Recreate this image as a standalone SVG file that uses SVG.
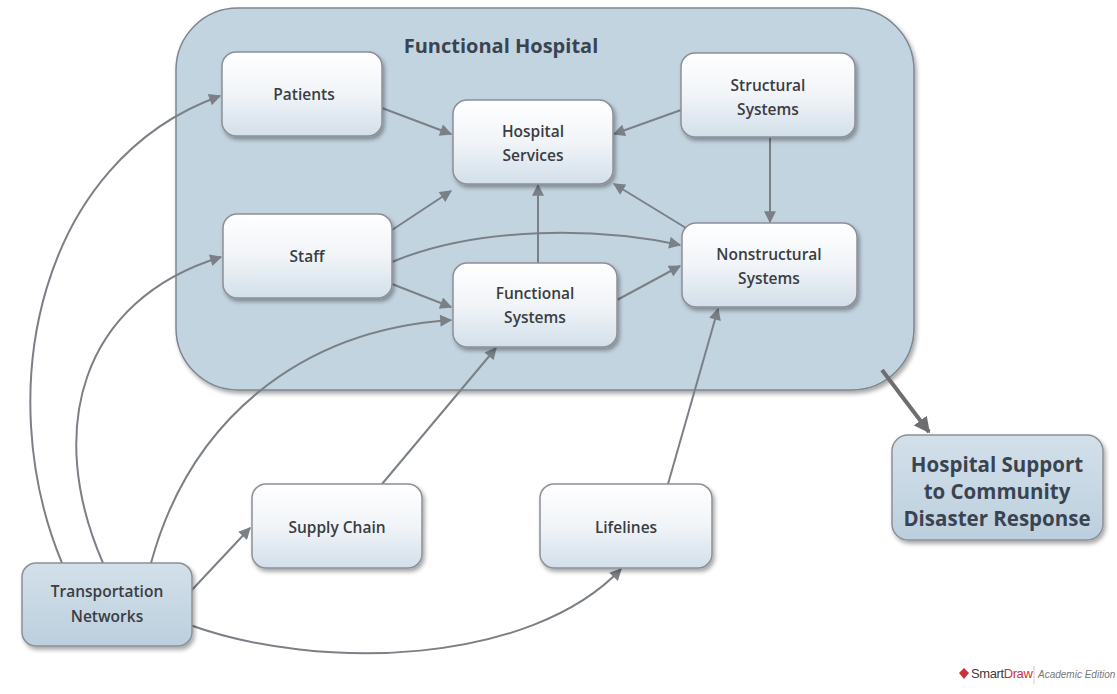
<svg xmlns="http://www.w3.org/2000/svg" width="1117" height="694" viewBox="0 0 1117 694">
<defs>
<linearGradient id="gw" x1="0" y1="0" x2="0" y2="1">
<stop offset="0" stop-color="#ffffff"/>
<stop offset="0.5" stop-color="#f1f4f8"/>
<stop offset="1" stop-color="#d2dfea"/>
</linearGradient>
<linearGradient id="gb" x1="0" y1="0" x2="0" y2="1">
<stop offset="0" stop-color="#d3e0ea"/>
<stop offset="1" stop-color="#bccfde"/>
</linearGradient>
<filter id="sh" x="-10%" y="-10%" width="125%" height="130%">
<feDropShadow dx="2" dy="3" stdDeviation="2" flood-color="#000" flood-opacity="0.35"/>
</filter>
<marker id="ar" viewBox="0 0 10 10" refX="9" refY="5" markerWidth="6.5" markerHeight="6" orient="auto" markerUnits="strokeWidth">
<path d="M0,0 L10,5 L0,10 z" fill="#7b8086"/>
</marker>
<marker id="arb" viewBox="0 0 10 10" refX="9" refY="5" markerWidth="4" markerHeight="4" orient="auto" markerUnits="strokeWidth">
<path d="M0,0 L10,5 L0,10 z" fill="#6e6e70"/>
</marker>
</defs>
<style>
.box{fill:url(#gw);stroke:#8c9096;stroke-width:1.5;filter:url(#sh)}
.bbox{fill:url(#gb);stroke:#8c9096;stroke-width:1.5;filter:url(#sh)}
.lbl{font-family:"Open Sans","Noto Sans",sans-serif;font-weight:600;font-size:15.5px;fill:#3a3d42;text-anchor:middle}
.big{font-family:"Open Sans","Noto Sans",sans-serif;font-weight:700;font-size:20.5px;fill:#3a4450;text-anchor:middle}
.title{font-family:"Open Sans","Noto Sans",sans-serif;font-weight:700;font-size:20px;fill:#3a4450;text-anchor:middle}
.c{fill:none;stroke:#7b8086;stroke-width:2;marker-end:url(#ar)}
</style>
<rect width="1117" height="694" fill="#ffffff"/>
<g id="container">
<rect x="176" y="8" width="738" height="382" rx="62" ry="62" fill="#c3d4e1" stroke="#7d8790" stroke-width="1.5" filter="url(#sh)"/>
<text class="title" x="501" y="53">Functional Hospital</text>
</g>
<g id="connectors">
<path class="c" d="M62,563 C -10,390 40,160 220,96"/>
<path class="c" d="M103,563 C 45,430 80,300 221,257"/>
<path class="c" d="M151,563 C 190,420 300,330 451,320"/>
<path class="c" d="M190,592 L250,528"/>
<path class="c" d="M190,625 C 320,672 530,665 621,569"/>
<path class="c" d="M382,484 L496,348"/>
<path class="c" d="M668,484 L718,309"/>
<path class="c" d="M382,108 L451,134"/>
<path class="c" d="M681,110 L614,134"/>
<path class="c" d="M770,138 L770,222"/>
<path class="c" d="M392,230 L451,191"/>
<path class="c" d="M392,262 C 480,225 600,228 680,245"/>
<path class="c" d="M392,284 L451,307"/>
<path class="c" d="M538,263 L538,185"/>
<path class="c" d="M686,228 L614,184"/>
<path class="c" d="M617,300 L680,266"/>
<path fill="none" stroke="#6e6e70" stroke-width="4" marker-end="url(#arb)" d="M882,370 L929,432"/>
</g>
<g id="patients">
<rect class="box" x="222" y="52" width="160" height="84" rx="14"/>
<text class="lbl" x="304" y="100">Patients</text>
</g>
<g id="hospital-services">
<rect class="box" x="453" y="100" width="160" height="84" rx="14"/>
<text class="lbl" x="533" y="137">Hospital</text>
<text class="lbl" x="533" y="161">Services</text>
</g>
<g id="structural-systems">
<rect class="box" x="681" y="53" width="174" height="84" rx="14"/>
<text class="lbl" x="768" y="91">Structural</text>
<text class="lbl" x="768" y="115">Systems</text>
</g>
<g id="staff">
<rect class="box" x="223" y="214" width="169" height="84" rx="14"/>
<text class="lbl" x="307" y="262">Staff</text>
</g>
<g id="functional-systems">
<rect class="box" x="453" y="263" width="164" height="84" rx="14"/>
<text class="lbl" x="535" y="299">Functional</text>
<text class="lbl" x="535" y="323">Systems</text>
</g>
<g id="nonstructural-systems">
<rect class="box" x="682" y="223" width="175" height="84" rx="14"/>
<text class="lbl" x="769" y="260">Nonstructural</text>
<text class="lbl" x="769" y="284">Systems</text>
</g>
<g id="supply-chain">
<rect class="box" x="252" y="484" width="170" height="84" rx="14"/>
<text class="lbl" x="337" y="533">Supply Chain</text>
</g>
<g id="lifelines">
<rect class="box" x="540" y="484" width="172" height="84" rx="14"/>
<text class="lbl" x="626" y="533">Lifelines</text>
</g>
<g id="transportation-networks">
<rect class="bbox" x="22" y="563" width="170" height="83" rx="14"/>
<text class="lbl" x="107" y="597">Transportation</text>
<text class="lbl" x="107" y="622">Networks</text>
</g>
<g id="hospital-support">
<rect class="bbox" x="892" y="435" width="211" height="105" rx="16"/>
<text class="big" x="997" y="472">Hospital Support</text>
<text class="big" x="997" y="499">to Community</text>
<text class="big" x="997" y="526">Disaster Response</text>
</g>
<g id="logo">
<polygon points="964,668 969,673 964,679 959,673" fill="#c8343a"/>
<text x="971" y="678" font-family="'Liberation Sans',Arial,sans-serif" font-size="13" letter-spacing="-0.4" fill="#3c3c3c">Smart<tspan fill="#c8343a">Draw</tspan></text>
<line x1="1034" y1="666" x2="1034" y2="684" stroke="#cccccc" stroke-width="1"/>
<text x="1038" y="678" font-family="'Liberation Sans',Arial,sans-serif" font-size="10" font-style="italic" fill="#777777">Academic Edition</text>
</g>
</svg>
